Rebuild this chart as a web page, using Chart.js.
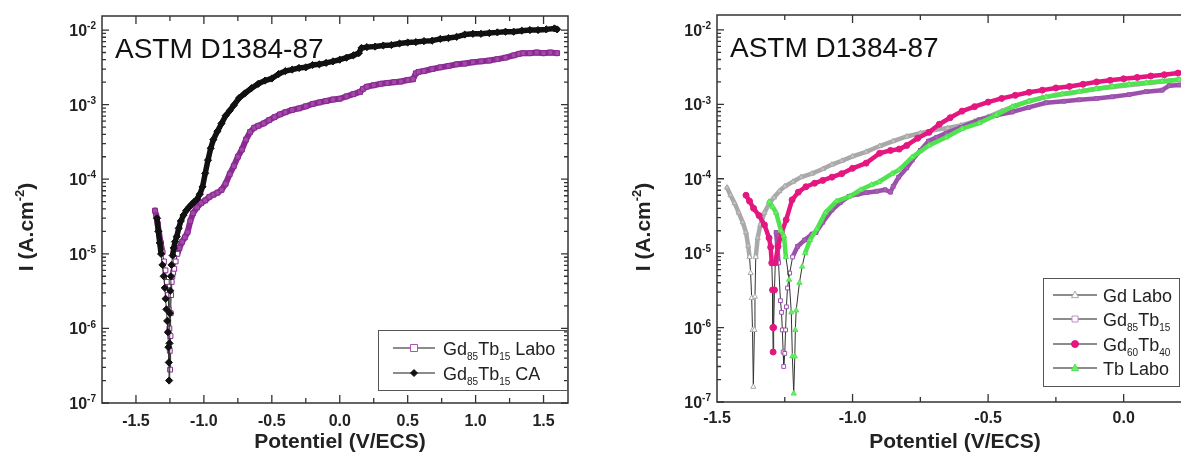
<!DOCTYPE html>
<html>
<head>
<meta charset="utf-8">
<script src="https://cdn.jsdelivr.net/npm/chart.js@4/dist/chart.umd.min.js"></script>
<style>
  html, body { margin: 0; padding: 0; background: #fff; overflow: hidden; width: 1181px; height: 466px; }
  #left { position: absolute; left: 0; top: 0; }
  #right { position: absolute; left: 600px; top: 0; }
</style>
</head>
<body>
<canvas id="left" width="600" height="466"></canvas>
<canvas id="right" width="640" height="466"></canvas>
<script>
/* ---------- DATA : left panel ---------- */
const labE = [-1.360, -1.350, -1.340, -1.330, -1.318, -1.305, -1.294, -1.283, -1.272, -1.264, -1.258, -1.254, -1.251, -1.249,
  -1.246, -1.244, -1.241, -1.237, -1.232, -1.226, -1.218, -1.208, -1.195, -1.180, -1.160, -1.140, -1.120, -1.100, -1.080,
  -1.050, -1.020, -0.990, -0.960, -0.930, -0.900, -0.870, -0.840, -0.810, -0.780, -0.750, -0.720, -0.690, -0.660, -0.630,
  -0.600, -0.560, -0.520, -0.480, -0.440, -0.400, -0.350, -0.300, -0.250, -0.200, -0.150, -0.100, -0.050, 0.000, 0.050,
  0.100, 0.150, 0.170, 0.200, 0.250, 0.300, 0.350, 0.400, 0.450, 0.500, 0.540, 0.560, 0.580, 0.620, 0.680, 0.740, 0.800,
  0.860, 0.920, 0.980, 1.040, 1.100, 1.160, 1.220, 1.280, 1.320, 1.350, 1.400, 1.450, 1.500, 1.550, 1.600];
const labI = [3.8e-5, 3.2e-5, 2.5e-5, 1.9e-5, 1.4e-5, 1.05e-5, 7.9e-6, 6.0e-6, 4.2e-6, 2.8e-6, 1.8e-6, 1.0e-6, 5.0e-7, 2.8e-7,
  7.9e-7, 1.6e-6, 2.8e-6, 4.2e-6, 5.0e-6, 5.6e-6, 6.3e-6, 7.9e-6, 1.0e-5, 1.2e-5, 1.45e-5, 1.66e-5, 1.95e-5, 2.75e-5, 3.5e-5,
  4.2e-5, 4.8e-5, 5.2e-5, 5.8e-5, 6.2e-5, 6.6e-5, 7.2e-5, 8.7e-5, 1.17e-4, 1.5e-4, 2.0e-4, 2.5e-4, 3.4e-4, 4.3e-4, 4.9e-4,
  5.2e-4, 5.6e-4, 6.2e-4, 6.8e-4, 7.4e-4, 7.9e-4, 8.5e-4, 8.9e-4, 9.5e-4, 1.02e-3, 1.07e-3, 1.12e-3, 1.17e-3, 1.2e-3, 1.29e-3,
  1.38e-3, 1.48e-3, 1.62e-3, 1.74e-3, 1.82e-3, 1.9e-3, 1.95e-3, 2.0e-3, 2.04e-3, 2.14e-3, 2.19e-3, 2.63e-3, 2.75e-3, 2.82e-3,
  3.0e-3, 3.16e-3, 3.3e-3, 3.47e-3, 3.55e-3, 3.7e-3, 3.8e-3, 3.9e-3, 4.07e-3, 4.27e-3, 4.57e-3, 4.8e-3, 4.9e-3, 4.9e-3,
  5.0e-3, 4.9e-3, 5.0e-3, 4.9e-3];

const caE = [-1.345, -1.335, -1.325, -1.315, -1.305, -1.296, -1.288, -1.282, -1.276, -1.270, -1.265, -1.261, -1.258, -1.256,
  -1.253, -1.250, -1.247, -1.243, -1.238, -1.230, -1.222, -1.212, -1.200, -1.185, -1.170, -1.150, -1.130, -1.110, -1.090,
  -1.070, -1.050, -1.030, -1.010, -0.990, -0.970, -0.950, -0.930, -0.900, -0.870, -0.840, -0.810, -0.780, -0.740, -0.700,
  -0.650, -0.600, -0.550, -0.500, -0.450, -0.400, -0.350, -0.300, -0.250, -0.200, -0.150, -0.100, -0.050, 0.000, 0.050,
  0.100, 0.140, 0.160, 0.200, 0.260, 0.320, 0.380, 0.440, 0.500, 0.560, 0.620, 0.680, 0.740, 0.800, 0.860, 0.920, 0.980,
  1.040, 1.100, 1.160, 1.220, 1.280, 1.340, 1.400, 1.460, 1.520, 1.580, 1.600];
const caI = [3.0e-5, 2.0e-5, 1.4e-5, 1.0e-5, 7.1e-6, 5.0e-6, 3.5e-6, 2.5e-6, 1.8e-6, 1.26e-6, 8.9e-7, 5.6e-7, 3.5e-7, 2.0e-7,
  6.3e-7, 1.6e-6, 3.2e-6, 5.0e-6, 7.1e-6, 9.5e-6, 1.2e-5, 1.45e-5, 1.7e-5, 2.2e-5, 2.75e-5, 3.3e-5, 3.8e-5, 4.2e-5, 4.6e-5,
  5.0e-5, 5.4e-5, 6.3e-5, 7.9e-5, 1.2e-4, 1.8e-4, 2.6e-4, 3.4e-4, 4.4e-4, 5.6e-4, 7.1e-4, 8.3e-4, 9.8e-4, 1.23e-3, 1.41e-3,
  1.66e-3, 1.9e-3, 2.1e-3, 2.24e-3, 2.57e-3, 2.82e-3, 2.95e-3, 3.1e-3, 3.16e-3, 3.4e-3, 3.47e-3, 3.63e-3, 3.8e-3, 4.0e-3,
  4.27e-3, 4.57e-3, 4.9e-3, 5.75e-3, 5.9e-3, 6.0e-3, 6.2e-3, 6.3e-3, 6.6e-3, 6.8e-3, 6.9e-3, 7.1e-3, 7.2e-3, 7.6e-3, 7.8e-3,
  8.1e-3, 8.7e-3, 8.9e-3, 8.9e-3, 9.1e-3, 9.3e-3, 9.5e-3, 9.5e-3, 9.8e-3, 1.0e-2, 1.0e-2, 1.02e-2, 1.05e-2, 1.02e-2];

/* ---------- DATA : right panel ---------- */
const gdE = [-1.463, -1.450, -1.435, -1.420, -1.405, -1.393, -1.385, -1.380, -1.376, -1.372, -1.369, -1.366, -1.362, -1.360,
  -1.357, -1.350, -1.340, -1.325, -1.308, -1.290, -1.270, -1.250, -1.220, -1.190, -1.150, -1.110, -1.076, -1.040, -1.000,
  -0.950, -0.900, -0.850, -0.800, -0.750, -0.700, -0.650, -0.600, -0.550, -0.500, -0.450, -0.400, -0.350, -0.300, -0.250,
  -0.200, -0.150, -0.100, -0.050, 0.000, 0.050, 0.100, 0.150, 0.200, 0.250];
const gdI = [7.6e-5, 6.0e-5, 4.7e-5, 3.5e-5, 2.6e-5, 1.9e-5, 1.26e-5, 8.9e-6, 5.4e-6, 2.5e-6, 9.3e-7, 1.6e-7, 9.3e-7, 2.6e-6,
  8.9e-6, 1.6e-5, 2.4e-5, 3.5e-5, 4.6e-5, 5.6e-5, 6.8e-5, 7.9e-5, 9.1e-5, 1.05e-4, 1.17e-4, 1.35e-4, 1.55e-4, 1.74e-4, 2.0e-4,
  2.3e-4, 2.75e-4, 3.2e-4, 3.7e-4, 4.1e-4, 4.5e-4, 4.8e-4, 5.2e-4, 5.9e-4, 6.8e-4, 8.1e-4, 9.5e-4, 1.1e-3, 1.23e-3, 1.32e-3,
  1.41e-3, 1.51e-3, 1.62e-3, 1.7e-3, 1.78e-3, 1.86e-3, 1.95e-3, 2.04e-3, 2.14e-3, 2.19e-3];

const gd85E = [-1.282, -1.278, -1.273, -1.266, -1.262, -1.259, -1.256, -1.254, -1.250, -1.247, -1.244, -1.240, -1.232, -1.221,
  -1.203, -1.177, -1.150, -1.135, -1.110, -1.076, -1.045, -1.013, -0.980, -0.950, -0.910, -0.880, -0.860, -0.850, -0.830,
  -0.800, -0.780, -0.750, -0.720, -0.690, -0.655, -0.600, -0.533, -0.470, -0.411, -0.350, -0.286, -0.220, -0.164, -0.100,
  -0.042, 0.020, 0.083, 0.142, 0.168, 0.205, 0.250];
const gd85I = [1.9e-5, 1.3e-5, 7.4e-6, 2.3e-6, 1.6e-6, 9.3e-7, 4.7e-7, 3.0e-7, 4.5e-7, 9.3e-7, 1.9e-6, 3.4e-6, 5.4e-6, 8.9e-6,
  1.23e-5, 1.5e-5, 1.8e-5, 1.9e-5, 2.6e-5, 3.8e-5, 4.8e-5, 5.8e-5, 6.2e-5, 6.5e-5, 6.8e-5, 7.1e-5, 6.6e-5, 7.9e-5, 1.05e-4,
  1.4e-4, 1.78e-4, 2.4e-4, 3.2e-4, 3.6e-4, 4.1e-4, 4.9e-4, 6.2e-4, 7.1e-4, 7.9e-4, 9.1e-4, 1.05e-3, 1.1e-3, 1.15e-3, 1.2e-3,
  1.26e-3, 1.35e-3, 1.48e-3, 1.55e-3, 1.78e-3, 1.82e-3, 1.86e-3];

const gd60E = [-1.393, -1.380, -1.365, -1.345, -1.325, -1.308, -1.302, -1.298, -1.295, -1.294, -1.293, -1.291, -1.288, -1.285,
  -1.275, -1.262, -1.245, -1.223, -1.200, -1.172, -1.140, -1.110, -1.076, -1.040, -1.000, -0.950, -0.900, -0.860, -0.828,
  -0.800, -0.760, -0.718, -0.680, -0.640, -0.596, -0.550, -0.500, -0.450, -0.400, -0.349, -0.300, -0.250, -0.200, -0.150,
  -0.100, -0.050, 0.000, 0.050, 0.100, 0.150, 0.200, 0.250];
const gd60I = [6.0e-5, 5.0e-5, 4.0e-5, 3.2e-5, 2.4e-5, 1.6e-5, 1.2e-5, 7.4e-6, 3.2e-6, 1.0e-6, 4.7e-7, 1.0e-6, 3.2e-6, 7.4e-6,
  1.23e-5, 1.86e-5, 2.8e-5, 5.2e-5, 6.6e-5, 7.8e-5, 8.7e-5, 9.5e-5, 1.05e-4, 1.17e-4, 1.38e-4, 1.62e-4, 2.2e-4, 2.4e-4, 2.5e-4,
  2.8e-4, 3.5e-4, 4.2e-4, 5.4e-4, 6.6e-4, 8.1e-4, 9.3e-4, 1.07e-3, 1.2e-3, 1.32e-3, 1.45e-3, 1.55e-3, 1.66e-3, 1.74e-3, 1.86e-3,
  2.0e-3, 2.1e-3, 2.2e-3, 2.3e-3, 2.4e-3, 2.5e-3, 2.63e-3, 2.7e-3];

const tbE = [-1.308, -1.295, -1.282, -1.264, -1.253, -1.246, -1.234, -1.226, -1.222, -1.217, -1.213, -1.211, -1.208, -1.196,
  -1.186, -1.175, -1.157, -1.132, -1.100, -1.059, -1.010, -0.970, -0.930, -0.902, -0.854, -0.828, -0.780, -0.718, -0.655,
  -0.596, -0.533, -0.470, -0.411, -0.349, -0.286, -0.227, -0.164, -0.101, -0.042, 0.020, 0.083, 0.142, 0.205, 0.250];
const tbI = [4.9e-5, 4.2e-5, 3.5e-5, 2.0e-5, 1.7e-5, 8.9e-6, 4.4e-6, 1.6e-6, 4.1e-7, 1.3e-7, 4.1e-7, 9.3e-7, 1.7e-6, 4.0e-6,
  6.6e-6, 1.0e-5, 1.5e-5, 2.1e-5, 3.5e-5, 5.0e-5, 5.8e-5, 7.1e-5, 8.3e-5, 9.1e-5, 1.17e-4, 1.32e-4, 1.95e-4, 2.8e-4, 3.6e-4,
  4.7e-4, 5.6e-4, 7.2e-4, 9.3e-4, 1.1e-3, 1.26e-3, 1.38e-3, 1.48e-3, 1.62e-3, 1.74e-3, 1.86e-3, 1.95e-3, 2.04e-3, 2.14e-3,
  2.24e-3];

/* ---------- TICKS / LABELS ---------- */
const leftXTicks = [-1.5, -1.0, -0.5, 0.0, 0.5, 1.0, 1.5];
const rightXTicks = [-1.5, -1.0, -0.5, 0.0, 0.5];
const yExps = [-7, -6, -5, -4, -3, -2];
const panelTitle = "ASTM D1384-87";
const xTitle = "Potentiel (V/ECS)";
// rich text: [text, 0 normal | 1 sub | 2 sup]
const yTitle = [["I (A.cm", 0], ["-2", 2], [")", 0]];
const leftNames = [
  [["Gd", 0], ["85", 1], ["Tb", 0], ["15", 1], [" Labo", 0]],
  [["Gd", 0], ["85", 1], ["Tb", 0], ["15", 1], [" CA", 0]]
];
const rightNames = [
  [["Gd Labo", 0]],
  [["Gd", 0], ["85", 1], ["Tb", 0], ["15", 1]],
  [["Gd", 0], ["60", 1], ["Tb", 0], ["40", 1]],
  [["Tb Labo", 0]]
];

const FONT = '"Liberation Sans", Arial, sans-serif';
const LOWI = 1.2e-5;

/* ---------- HELPERS ---------- */
function pts(E, I) {
    return E.map((e, i) => ({ x: e, y: I[i] }));
}

function richWidth(ctx, parts, size, small, weight) {
    let w = 0;
    for (const [t, k] of parts) {
        ctx.font = weight + " " + (k ? small : size) + "px " + FONT;
        w += ctx.measureText(t).width;
    }
    return w;
}

function drawRich(ctx, parts, x, base, size, small, weight) {
    let cx = x;
    for (const [t, k] of parts) {
        ctx.font = weight + " " + (k ? small : size) + "px " + FONT;
        const dy = k === 1 ? size * 0.3 : (k === 2 ? -size * 0.42 : 0);
        ctx.fillText(t, cx, base + dy);
        cx += ctx.measureText(t).width;
    }
}

function drawMarker(ctx, style, x, y, r, fill, stroke) {
    ctx.beginPath();
    if (style === "rect") ctx.rect(x - r, y - r, 2 * r, 2 * r);
    else if (style === "circle") ctx.arc(x, y, r, 0, Math.PI * 2);
    else if (style === "triangle") {
        ctx.moveTo(x, y - r * 1.15); ctx.lineTo(x + r, y + r * 0.75); ctx.lineTo(x - r, y + r * 0.75); ctx.closePath();
    } else if (style === "rectRot") {
        ctx.moveTo(x, y - r); ctx.lineTo(x + r, y); ctx.lineTo(x, y + r); ctx.lineTo(x - r, y); ctx.closePath();
    }
    ctx.fillStyle = fill; ctx.fill();
    ctx.lineWidth = 1; ctx.strokeStyle = stroke; ctx.stroke();
}

/* ---------- FRAME / TICKS / TEXT PLUGIN ---------- */
const framePlugin = {
    id: "frame",
    afterDraw(chart, args, o) {
        const { ctx, chartArea: a, scales: { x, y } } = chart;
        ctx.save();
        ctx.strokeStyle = "#333";
        ctx.lineWidth = 1.5;
        ctx.strokeRect(a.left, a.top, a.right - a.left, a.bottom - a.top);

        // x ticks (inward, bottom + top)
        ctx.lineWidth = 1.3;
        ctx.beginPath();
        o.xTicks.forEach(v => {
            [[v, 8], [v + 0.25, 5]].forEach(([t, len]) => {
                const px = x.getPixelForValue(t);
                if (px < a.left + 1 || px > a.right - 1) return;
                ctx.moveTo(px, a.bottom); ctx.lineTo(px, a.bottom - len);
                ctx.moveTo(px, a.top); ctx.lineTo(px, a.top + len);
            });
        });
        // y ticks (log, inward, left + right)
        yExps.forEach(e => {
            for (let k = 1; k <= 9; k++) {
                const v = k * Math.pow(10, e);
                const py = y.getPixelForValue(v);
                if (py < a.top + 1 || py > a.bottom) continue;
                const len = k === 1 ? 7 : 4;
                ctx.moveTo(a.left, py); ctx.lineTo(a.left + len, py);
                ctx.moveTo(a.right, py); ctx.lineTo(a.right - len, py);
            }
        });
        ctx.stroke();

        // tick labels
        ctx.fillStyle = "#222";
        ctx.textAlign = "center";
        ctx.textBaseline = "alphabetic";
        ctx.font = "bold 16px " + FONT;
        o.xTicks.forEach(v => {
            const px = x.getPixelForValue(v);
            if (px > chart.width) return;
            ctx.fillText(v.toFixed(1), px, a.bottom + o.xLabelOff);
        });
        ctx.textAlign = "left";
        yExps.forEach(e => {
            const py = y.getPixelForValue(Math.pow(10, e));
            const parts = [["10", 0], [String(e), 2]];
            const w = richWidth(ctx, parts, 16, 10, "bold");
            drawRich(ctx, parts, a.left - 6 - w, py + 6, 16, 10, "bold");
        });

        // panel title
        ctx.fillStyle = "#111";
        ctx.font = "28px " + FONT;
        ctx.fillText(panelTitle, o.title[0], o.title[1]);

        // axis titles
        ctx.fillStyle = "#222";
        ctx.textAlign = "center";
        ctx.font = "bold 21px " + FONT;
        ctx.fillText(xTitle, o.xTitle[0], o.xTitle[1]);
        ctx.textAlign = "left";
        ctx.save();
        ctx.translate(o.yTitle[0], o.yTitle[1]);
        ctx.rotate(-Math.PI / 2);
        const tw = richWidth(ctx, yTitle, 21, 13, "bold");
        drawRich(ctx, yTitle, -tw / 2, 0, 21, 13, "bold");
        ctx.restore();

        // legend
        const L = o.legend;
        ctx.strokeStyle = "#555";
        ctx.lineWidth = 1;
        ctx.strokeRect(L.box[0] + 0.5, L.box[1] + 0.5, L.box[2], L.box[3]);
        L.rows.forEach((ry, i) => {
            ctx.strokeStyle = "#666";
            ctx.lineWidth = 1.3;
            ctx.beginPath();
            ctx.moveTo(L.line[0], ry); ctx.lineTo(L.line[1], ry);
            ctx.stroke();
            const m = L.marks[i];
            drawMarker(ctx, m[0], (L.line[0] + L.line[1]) / 2, ry, m[1], m[2], m[3]);
            ctx.fillStyle = "#222";
            drawRich(ctx, L.names[i], L.textX, ry + 6.5, 18, 10, "normal");
        });
        ctx.restore();
    }
};

/* ---------- DATASET FACTORY ---------- */
function series(E, I, color, style, radius, fill, openLow, order, width) {
    return {
        data: pts(E, I),
        showLine: true,
        tension: 0,
        order: order,
        borderColor: color,
        borderWidth: width,
        borderJoinStyle: "round",
        borderCapStyle: "round",
        pointStyle: style,
        pointRadius: radius,
        pointBorderWidth: 1,
        pointBorderColor: color,
        pointBackgroundColor: c => (openLow && c.raw && c.raw.y < LOWI) ? "#fff" : fill,
        segment: {
            borderColor: c => (c.p0.parsed.y < LOWI && c.p1.parsed.y < LOWI) ? "#333" : undefined,
            borderWidth: c => (c.p0.parsed.y < LOWI && c.p1.parsed.y < LOWI) ? 1 : undefined
        }
    };
}

function makeChart(id, datasets, xmin, xmax, ymax, padding, frameOpts) {
    return new Chart(document.getElementById(id), {
        type: "scatter",
        data: { datasets: datasets },
        options: {
            responsive: false,
            animation: false,
            layout: { padding: padding },
            plugins: {
                legend: { display: false },
                tooltip: { enabled: false },
                frame: frameOpts
            },
            scales: {
                x: { type: "linear", min: xmin, max: xmax, display: false },
                y: { type: "logarithmic", min: 1e-7, max: ymax, display: false }
            }
        },
        plugins: [framePlugin]
    });
}

/* ---------- LEFT PANEL ---------- */
makeChart("left", [
    series(labE, labI, "#8b2a92", "rect", 3.4, "#a24aa8", true, 1, 6),
    series(caE, caI, "#111", "rectRot", 3.6, "#111", false, 0, 5.5)
], -1.75, 1.68, 0.01542, { left: 102, top: 16, right: 32, bottom: 63 }, {
    xTicks: leftXTicks,
    xLabelOff: 23,
    title: [115, 58],
    xTitle: [340, 448],
    yTitle: [33, 227],
    legend: {
        box: [378, 330, 189, 60],
        rows: [348, 373],
        line: [393, 435],
        textX: 443,
        names: leftNames,
        marks: [["rect", 3.5, "#fff", "#b050b0"], ["rectRot", 3.5, "#111", "#111"]]
    }
});

/* ---------- RIGHT PANEL ---------- */
makeChart("right", [
    series(gdE, gdI, "#a9a9a9", "triangle", 3, "#c4c4c4", true, 3, 4.5),
    series(gd85E, gd85I, "#9c50ac", "rect", 2.7, "#a860b6", true, 2, 4.5),
    series(gd60E, gd60I, "#e3177f", "circle", 3, "#e3177f", false, 1, 4.5),
    series(tbE, tbI, "#4fe34f", "triangle", 3, "#6ef06e", false, 0, 4.5)
], -1.5, 0.3, 0.01585, { left: 117, top: 15, right: 35, bottom: 64 }, {
    xTicks: rightXTicks,
    xLabelOff: 21,
    title: [130, 57],
    xTitle: [355, 448],
    yTitle: [50, 227],
    legend: {
        box: [443, 278, 136, 108],
        rows: [295, 319, 344, 368],
        line: [453, 497],
        textX: 503,
        names: rightNames,
        marks: [["triangle", 3.5, "#fff", "#aaa"], ["rect", 3, "#fff", "#c08ac8"],
                 ["circle", 3.5, "#e3177f", "#e3177f"], ["triangle", 3.5, "#6ef06e", "#4fe34f"]]
    }
});
</script>
</body>
</html>
